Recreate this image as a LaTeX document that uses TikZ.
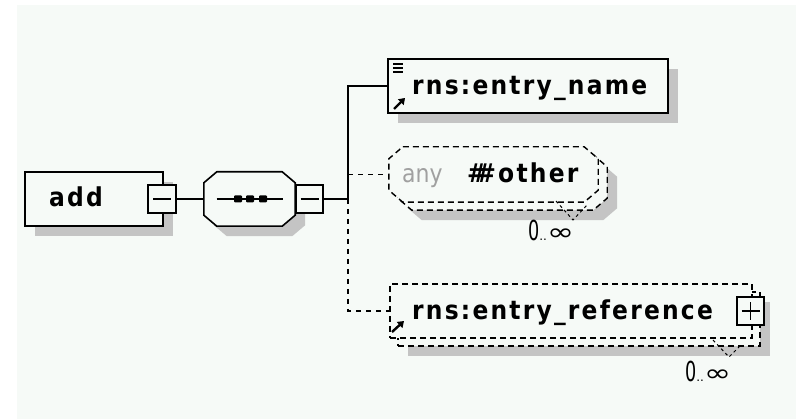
\documentclass[tikz,border=0pt]{standalone}
\usepackage{fontspec}
\usetikzlibrary{shadows,arrows.meta}
\newfontfamily\lblfont[LetterSpace=8.5,FakeStretch=0.9]{DejaVu Sans}
\newfontfamily\anyfont[FakeStretch=0.88]{DejaVu Sans}
\newfontfamily\plainfont{DejaVu Sans}
\definecolor{canvas}{HTML}{F6FAF7}
\definecolor{shadowgray}{HTML}{C4C4C4}
\definecolor{anygray}{HTML}{A0A0A0}
\tikzset{
  box/.style={draw, line width=1.6pt, fill=canvas, inner sep=0pt},
  dbox/.style={draw, line width=1.4pt, dash pattern=on 6pt off 4pt, fill=canvas, inner sep=0pt},
  frame/.style={draw=none, inner sep=0pt},
  shadowed/.style={general shadow={fill=shadowgray, shadow xshift=10pt, shadow yshift=-10pt}},
  wire/.style={line width=1.2pt},
  dwire/.style={line width=1.2pt, dash pattern=on 5pt off 5pt},
  vmark/.style={line width=1pt, dash pattern=on 3pt off 3pt},
  sign/.style={line width=1.3pt},
  octline/.style={line width=1.6pt, fill=canvas},
  doctline/.style={line width=1.4pt, dash pattern=on 6pt off 4pt, fill=canvas},
  refarrow/.style={line width=2.4pt, -{Triangle[length=6pt,width=8pt]}},
  elabel/.style={anchor=base west, inner sep=0pt, font=\lblfont\bfseries\fontsize{26}{26}\selectfont},
  occ/.style={anchor=base west, inner sep=0pt, font=\plainfont\fontsize{22}{22}\selectfont},
}
% octagon outline round node #1, chamfer #2 x #3, displaced by (#4,#5)
\newcommand{\octpath}[5]{%
  ([xshift=#2+#4,yshift=#5]#1.north west) -- ([xshift=-#2+#4,yshift=#5]#1.north east) --
  ([xshift=#4,yshift=-#3+#5]#1.north east) -- ([xshift=#4,yshift=#3+#5]#1.south east) --
  ([xshift=-#2+#4,yshift=#5]#1.south east) -- ([xshift=#2+#4,yshift=#5]#1.south west) --
  ([xshift=#4,yshift=#3+#5]#1.south west) -- ([xshift=#4,yshift=-#3+#5]#1.north west) -- cycle}
\newcommand{\occtext}{\scalebox{0.8}[1.25]{0}{\fontsize{12}{12}\selectfont..}\scalebox{1.35}[1]{\fontsize{24}{24}\selectfont ∞}}
\begin{document}
\begin{tikzpicture}[x=1pt,y=-1pt]
\useasboundingbox (0,0) rectangle (796,419);
\fill[canvas] (17,5) rectangle (796,419);

% element "add"
\node[box, shadowed, minimum width=138pt, minimum height=54pt] (add) at (94,199) {};
\node[elabel] (addlbl) at (49,207) {add};
\node[box, minimum width=28pt, minimum height=28pt] (addm) at (162,199) {};
\draw[sign] ([xshift=-9pt]addm.center) -- ([xshift=9pt]addm.center);

% sequence compositor
\node[frame, minimum width=91pt, minimum height=54pt] (seq) at (249.5,199) {};
\fill[shadowgray] \octpath{seq}{13pt}{11pt}{10pt}{-10pt};
\draw[octline] \octpath{seq}{13pt}{11pt}{0pt}{0pt};
\draw[line width=1.4pt] ([xshift=-33pt]seq.center) -- ([xshift=33pt]seq.center);
\foreach \dx in {-11.5,0.5,13.5}
  \fill[rounded corners=1pt] ([xshift=\dx pt-4pt,yshift=-3.5pt]seq.center) rectangle ([xshift=\dx pt+4pt,yshift=3.5pt]seq.center);
\node[box, minimum width=27pt, minimum height=28pt] (seqm) at (309.5,199) {};
\draw[sign] ([xshift=-9pt]seqm.center) -- ([xshift=9pt]seqm.center);

\coordinate (j) at (348,199);

% rns:entry_name
\node[box, shadowed, minimum width=280pt, minimum height=54pt] (name) at (528,86) {};
\node[elabel] (namelbl) at (412,95) {rns:entry\_name};
\foreach \yy in {64,68,72}
  \draw[line width=1.3pt] (393,\yy) -- (403,\yy);
\draw[refarrow] (394,109) -- (405,98);

% any ##other (0..unbounded)
\node[frame, minimum width=209pt, minimum height=55pt] (anyb) at (502.5,182.5) {};
\node[frame, minimum width=209pt, minimum height=55pt] (anyf) at (493.5,174.5) {};
\fill[shadowgray] \octpath{anyb}{14pt}{12pt}{10pt}{-10pt};
\draw[doctline] \octpath{anyb}{14pt}{12pt}{0pt}{0pt};
\draw[doctline] \octpath{anyf}{14pt}{12pt}{0pt}{0pt};
\node[anchor=base west, inner sep=0pt, text=anygray, font=\anyfont\fontsize{25}{25}\selectfont] (anyw) at (402,183) {any};
\node[elabel] (anyo) at (467,183) {\#\kern-0.4em\#other};
\draw[vmark] (556,201) -- (573,220) -- (588,204);
\node[occ] (anyocc) at (528,241) {\occtext};

% rns:entry_reference (0..unbounded)
\node[dbox, shadowed, minimum width=362pt, minimum height=54pt] (refb) at (579,319) {};
\node[dbox, minimum width=362pt, minimum height=54pt] (reff) at (571,311) {};
\node[elabel] (reflbl) at (412,320) {rns:entry\_reference};
\draw[refarrow] (392,332) -- (404,321);
\node[box, minimum width=27pt, minimum height=28pt] (refp) at (750.5,311) {};
\draw[sign] ([xshift=-9pt]refp.center) -- ([xshift=9pt]refp.center);
\draw[sign] ([yshift=-9pt]refp.center) -- ([yshift=9pt]refp.center);
\draw[vmark] (713,340) -- (729,357) -- (740,346);
\node[occ] (refocc) at (685,382) {\occtext};

% connectors
\draw[wire] (addm.east) -- (seq.west);
\draw[wire] (seqm.east) -- (j) |- (name.west);
\draw[dwire] (j |- anyf.west) -- (anyf.west);
\draw[dwire] (j) |- (reff.west);
\end{tikzpicture}
\end{document}
